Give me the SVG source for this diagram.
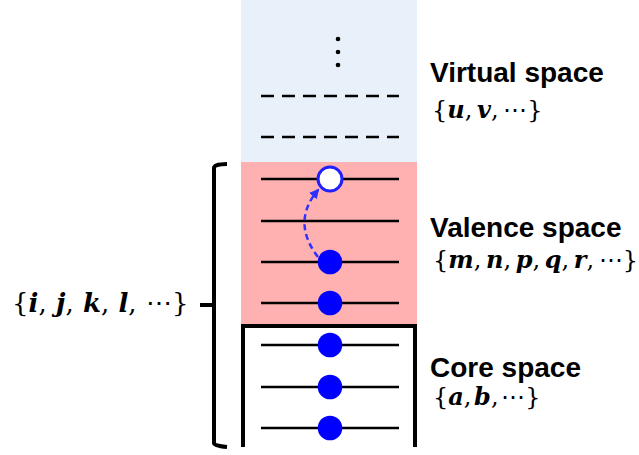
<svg xmlns="http://www.w3.org/2000/svg" width="639" height="455" viewBox="0 0 639 455">
<defs>
<style>
.lvl{stroke:#000;stroke-width:2.5;fill:none}
.vlvl{stroke:#000;stroke-width:2.5;fill:none;stroke-dasharray:13 8}
.e{fill:#0000FF}
.hole{fill:#fff;stroke:#2020FF;stroke-width:3}
.title{font-family:"Liberation Sans",Arial,sans-serif;font-weight:bold;font-size:28px;fill:#000}
.math{font-family:"DejaVu Serif","Liberation Serif",serif;font-size:24px;fill:#000}
.mi{font-style:italic;font-weight:bold}
.br{stroke:#000;stroke-width:4;fill:none;stroke-linejoin:round}
</style>
<marker id="ah" viewBox="0 0 10 10" refX="8" refY="5" markerWidth="4" markerHeight="4" orient="auto" markerUnits="strokeWidth">
<path d="M0,0 L10,5 L0,10 z" fill="#3030FF"/>
</marker>
</defs>

<g id="virtual">
<rect x="241" y="0" width="176" height="162" fill="#E8F1F9"/>
<circle cx="338" cy="39" r="2.3" fill="#000"/>
<circle cx="338" cy="52" r="2.3" fill="#000"/>
<circle cx="338" cy="65" r="2.3" fill="#000"/>
<line class="vlvl" x1="261" y1="96" x2="399" y2="96"/>
<line class="vlvl" x1="261" y1="137" x2="399" y2="137"/>
</g>

<g id="valence">
<rect x="241" y="162" width="176" height="164" fill="#FFB0B0"/>
<line class="lvl" x1="261" y1="179" x2="399" y2="179"/>
<line class="lvl" x1="261" y1="221" x2="399" y2="221"/>
<line class="lvl" x1="261" y1="262" x2="399" y2="262"/>
<line class="lvl" x1="261" y1="303" x2="399" y2="303"/>
<circle class="hole" cx="330" cy="179" r="12"/>
<circle class="e" cx="330" cy="262" r="12.3"/>
<circle class="e" cx="330" cy="303" r="12.3"/>
</g>

<g id="core">
<path d="M243,447 V326 H415 V447" stroke="#000" stroke-width="4" fill="none"/>
<line class="lvl" x1="261" y1="345" x2="399" y2="345"/>
<line class="lvl" x1="261" y1="387" x2="399" y2="387"/>
<line class="lvl" x1="261" y1="428" x2="399" y2="428"/>
<circle class="e" cx="330" cy="345" r="12.3"/>
<circle class="e" cx="330" cy="387" r="12.3"/>
<circle class="e" cx="330" cy="428" r="12.3"/>
</g>

<g id="connectors">
<path d="M318,257 Q291,222 318,190" stroke="#3030FF" stroke-width="2.5" fill="none" stroke-dasharray="6 4" marker-end="url(#ah)"/>
</g>

<g id="bracket">
<path class="br" d="M227,164 Q214,164 214,168 V443 Q214,446 227,447"/>
<line class="br" x1="200" y1="305" x2="214" y2="305"/>
</g>

<g id="labels">
<text class="title" x="430" y="82">Virtual space</text>
<text class="math" x="432" y="118" word-spacing="-3">{<tspan class="mi">u</tspan>, <tspan class="mi">v</tspan>, ⋯}</text>
<text class="title" x="430" y="237">Valence space</text>
<text class="math" x="433" y="268" word-spacing="-3">{<tspan class="mi">m</tspan>, <tspan class="mi">n</tspan>, <tspan class="mi">p</tspan>, <tspan class="mi">q</tspan>, <tspan class="mi">r</tspan>, ⋯}</text>
<text class="title" x="430" y="377">Core space</text>
<text class="math" x="433" y="405" word-spacing="-5">{<tspan class="mi">a</tspan>, <tspan class="mi">b</tspan>, ⋯}</text>
<text class="math" x="12" y="312" style="font-size:26px" word-spacing="1">{<tspan class="mi">i</tspan>, <tspan class="mi">j</tspan>, <tspan class="mi">k</tspan>, <tspan class="mi">l</tspan>, ⋯}</text>
</g>
</svg>
